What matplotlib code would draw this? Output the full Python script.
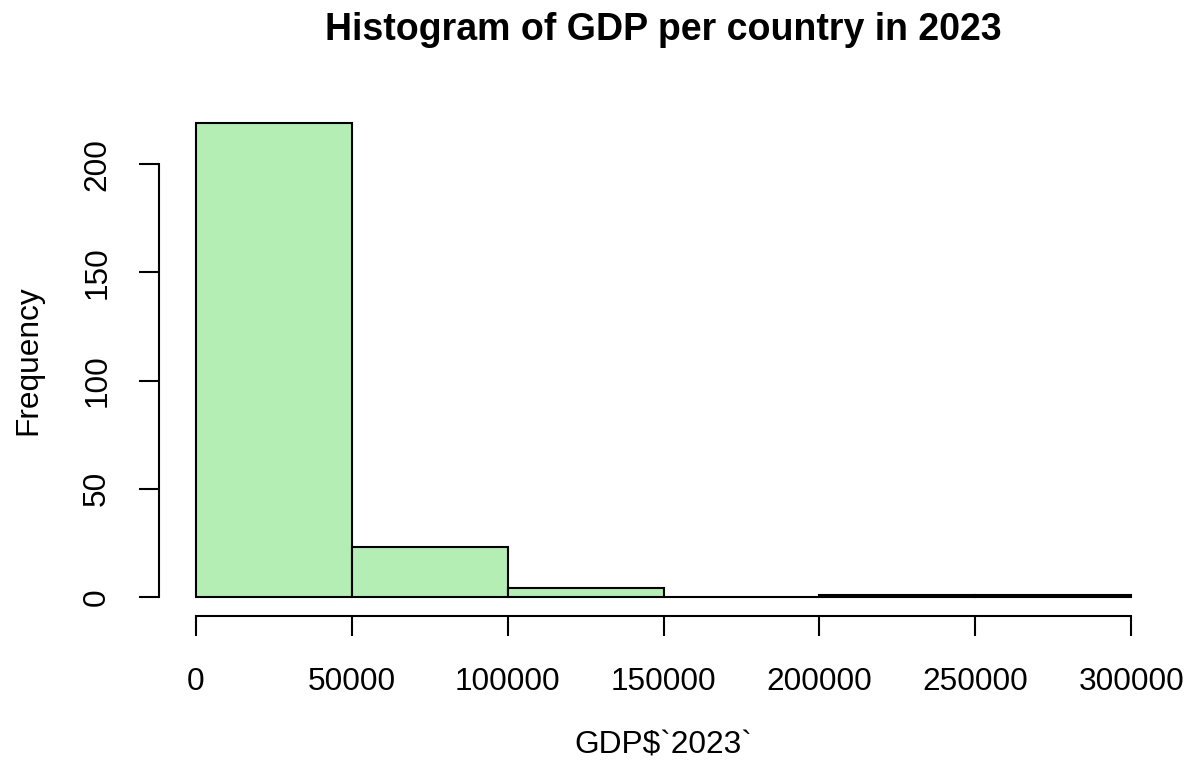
import numpy as np
import matplotlib.pyplot as plt

plt.rcParams['font.family'] = ['Liberation Sans', 'DejaVu Sans']

bin_edges = [0, 50000, 100000, 150000, 200000, 250000, 300000]
counts = [219, 23, 4, 0, 1, 1]
x_ticks = [0, 50000, 100000, 150000, 200000, 250000, 300000]
y_ticks = [0, 50, 100, 150, 200]

W, H = 1191, 768
fig = plt.figure(figsize=(W / 100, H / 100), dpi=100)

# plot region like R's default (4% extension on each side)
left, right, top, bottom = 158.6, 1168.6, 104, 616
ax = fig.add_axes([left / W, 1 - bottom / H, (right - left) / W, (bottom - top) / H])

edges = np.array(bin_edges)
ax.bar(edges[:-1], counts, width=np.diff(edges), align='edge',
       color='#B4EEB4', edgecolor='black', linewidth=1.5)

xr = edges[-1] - edges[0]
ax.set_xlim(edges[0] - 0.04 * xr, edges[-1] + 0.04 * xr)
yr = max(counts)
ax.set_ylim(-0.04 * yr, yr * 1.04)

for s in ['top', 'right']:
    ax.spines[s].set_visible(False)
ax.spines['bottom'].set_bounds(x_ticks[0], x_ticks[-1])
ax.spines['left'].set_bounds(y_ticks[0], y_ticks[-1])
for s in ['bottom', 'left']:
    ax.spines[s].set_linewidth(1.5)

ax.set_xticks(x_ticks)
ax.set_xticklabels([str(t) for t in x_ticks])
ax.set_yticks(y_ticks)
ax.set_yticklabels([str(t) for t in y_ticks], rotation=90, va='center')
ax.tick_params(axis='both', length=14.4, width=1.5, labelsize=22.8)
ax.tick_params(axis='x', pad=22)
ax.tick_params(axis='y', pad=19)

fig.text(663.6 / W, 1 - 30 / H, 'Histogram of GDP per country in 2023',
         ha='center', va='center', fontsize=27, fontweight='bold')
fig.text(663.6 / W, 1 - 745 / H, 'GDP$`2023`', ha='center', va='center',
         fontsize=22.8)
fig.text(28 / W, 1 - 360 / H, 'Frequency', ha='center', va='center',
         rotation=90, fontsize=22.8)

fig.savefig('out.png', dpi=100)
